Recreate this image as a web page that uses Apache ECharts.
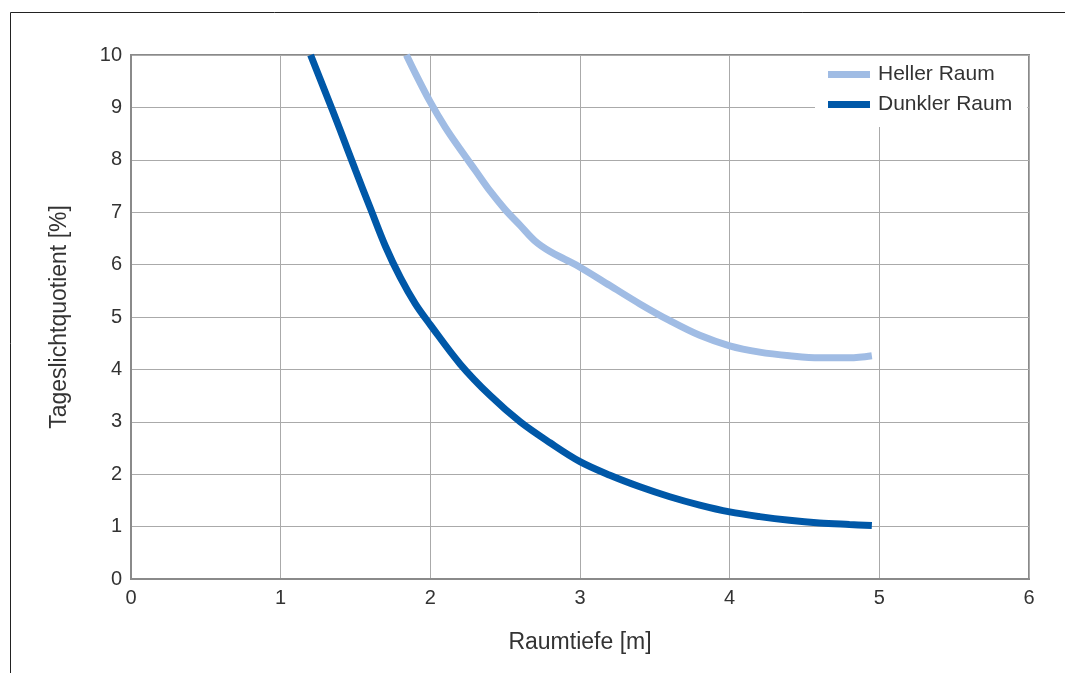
<!DOCTYPE html>
<html>
<head>
<meta charset="utf-8">
<script src="https://cdn.jsdelivr.net/npm/echarts@6/dist/echarts.min.js"></script>
<style>
  html, body { margin: 0; padding: 0; background: #fff; }
  #main { width: 1065px; height: 673px; }
</style>
</head>
<body>
<div id="main"></div>
<script>
// Werte
var hellerRaum = [
    [1.84, 10], [1.9, 9.65], [2.0, 9.1], [2.1, 8.62], [2.2, 8.2], [2.3, 7.8],
    [2.4, 7.4], [2.5, 7.05], [2.6, 6.75], [2.7, 6.45], [2.8, 6.25], [2.9, 6.1],
    [3.0, 5.95], [3.2, 5.6], [3.4, 5.25], [3.6, 4.93], [3.8, 4.65], [4.0, 4.45],
    [4.2, 4.33], [4.4, 4.26], [4.6, 4.22], [4.8, 4.22], [4.95, 4.26]
];
var dunklerRaum = [
    [1.2, 10], [1.3, 9.28], [1.4, 8.55], [1.5, 7.8], [1.6, 7.07], [1.7, 6.35],
    [1.8, 5.75], [1.9, 5.25], [2.0, 4.85], [2.2, 4.1], [2.4, 3.5], [2.6, 3.0],
    [2.8, 2.6], [3.0, 2.24], [3.2, 1.98], [3.4, 1.76], [3.6, 1.57], [3.8, 1.41],
    [4.0, 1.28], [4.2, 1.19], [4.4, 1.12], [4.6, 1.07], [4.8, 1.04], [4.95, 1.02]
];
var seriesNames = ['Heller Raum', 'Dunkler Raum'];
var seriesColors = ['#a0bce4', '#0058a8'];

var chart = echarts.init(document.getElementById('main'));
var fontFam = 'Liberation Sans, Arial, sans-serif';

var option = {
    animation: false,
    textStyle: { fontFamily: fontFam },
    graphic: [{
        type: 'rect',
        shape: { x: 10.5, y: 12.5, width: 1100, height: 700 },
        style: { fill: 'none', stroke: '#222', lineWidth: 1 },
        silent: true
    }],
    grid: {
        left: 131, right: 36, top: 55, bottom: 94,
        show: true, borderColor: '#8a8a8a', borderWidth: 2
    },
    legend: {
        left: 815, top: 56,
        orient: 'vertical',
        backgroundColor: '#fff',
        padding: [8, 15, 12, 13],
        itemWidth: 42, itemHeight: 7, itemGap: 9,
        icon: 'rect',
        textStyle: { fontSize: 21, color: '#333', fontFamily: fontFam, padding: [0, 0, 0, 3] },
        data: seriesNames
    },
    xAxis: {
        type: 'value', min: 0, max: 6, interval: 1,
        name: 'Raumtiefe [m]', nameLocation: 'middle', nameGap: 52,
        nameTextStyle: { fontSize: 23, color: '#333' },
        axisLine: { lineStyle: { color: '#8a8a8a', width: 2 } },
        axisTick: { show: false },
        axisLabel: { fontSize: 20, color: '#333', margin: 9 },
        splitLine: { lineStyle: { color: '#aaa', width: 1 } }
    },
    yAxis: {
        type: 'value', min: 0, max: 10, interval: 1,
        name: 'Tageslichtquotient [%]', nameLocation: 'middle', nameGap: 60,
        nameTextStyle: { fontSize: 23, color: '#333' },
        axisLine: { show: true, lineStyle: { color: '#8a8a8a', width: 2 } },
        axisTick: { show: false },
        axisLabel: { fontSize: 20, color: '#333', margin: 9 },
        splitLine: { lineStyle: { color: '#aaa', width: 1 } }
    },
    series: [{
        name: seriesNames[0], type: 'line', data: hellerRaum,
        smooth: 0.35, symbol: 'none',
        lineStyle: { color: seriesColors[0], width: 7 },
        itemStyle: { color: seriesColors[0] }
    }, {
        name: seriesNames[1], type: 'line', data: dunklerRaum,
        smooth: 0.35, symbol: 'none',
        lineStyle: { color: seriesColors[1], width: 7 },
        itemStyle: { color: seriesColors[1] }
    }]
};
chart.setOption(option);
</script>
</body>
</html>
